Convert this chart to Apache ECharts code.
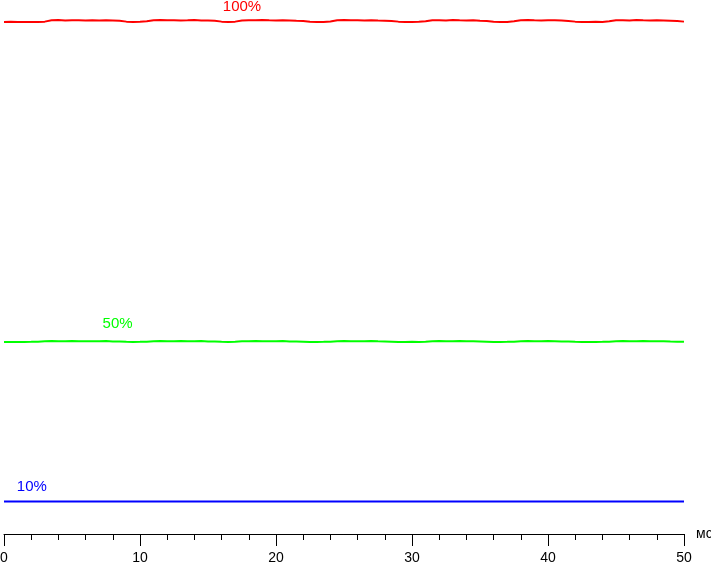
<!DOCTYPE html>
<html>
<head>
<meta charset="utf-8">
<script src="https://cdn.jsdelivr.net/npm/echarts@6/dist/echarts.min.js"></script>
<style>html,body{margin:0;padding:0;background:#fff;}#c{width:711px;height:562px;}</style>
</head>
<body>
<div id="c"></div>
<script>
// time axis (ms), sampled every 0.5 ms
var timeMs = [];
for (var i = 0; i <= 100; i++) timeMs.push(i * 0.5);

var xTicks = [0, 10, 20, 30, 40, 50];
var xUnit = 'мс';
var seriesNames = ['100%', '50%', '10%'];

// relative brightness (arbitrary units, 0..100 of plot height)
var red100 = [
  95.90, 95.92, 95.88, 95.90, 95.86, 95.90, 95.95,
  96.20, 96.24, 96.18, 96.22, 96.20, 96.16, 96.22, 96.18, 96.20, 96.15, 96.10,
  95.95, 95.90, 95.92, 96.00,
  96.22, 96.25, 96.20, 96.22, 96.18, 96.20, 96.24, 96.18, 96.15, 96.10,
  95.95, 95.90, 95.95,
  96.18, 96.22, 96.20, 96.24, 96.20, 96.18, 96.22, 96.16, 96.10, 96.05,
  95.92, 95.88, 95.90, 95.98,
  96.20, 96.24, 96.20, 96.22, 96.18, 96.20, 96.15, 96.12, 96.05,
  95.95, 95.90, 95.88, 95.92, 96.00,
  96.20, 96.22, 96.18, 96.24, 96.20, 96.18, 96.20, 96.12, 96.05,
  95.92, 95.88, 95.90, 96.00,
  96.20, 96.24, 96.20, 96.18, 96.22, 96.20, 96.15, 96.08,
  95.95, 95.90, 95.88, 95.92, 95.90, 96.00,
  96.20, 96.22, 96.18, 96.24, 96.20, 96.18, 96.20, 96.15, 96.10, 96.05,
  95.95
];
var green50 = [
  35.96, 35.97, 35.95, 35.96, 35.98, 36.02,
  36.10, 36.12, 36.08, 36.11, 36.12, 36.09, 36.11, 36.08, 36.10, 36.12, 36.07, 36.03,
  35.98, 35.97, 35.99, 36.02,
  36.10, 36.12, 36.09, 36.11, 36.12, 36.08, 36.10, 36.12, 36.07, 36.03,
  35.98, 35.96, 35.99,
  36.09, 36.11, 36.12, 36.08, 36.11, 36.10, 36.12, 36.07, 36.04, 36.01,
  35.97, 35.96, 35.98, 36.02,
  36.10, 36.12, 36.09, 36.11, 36.10, 36.12, 36.08, 36.05, 36.01,
  35.97, 35.96, 35.98, 35.97, 36.02,
  36.10, 36.12, 36.08, 36.11, 36.12, 36.09, 36.10, 36.06, 36.02,
  35.97, 35.96, 35.98, 36.02,
  36.10, 36.12, 36.09, 36.11, 36.12, 36.10, 36.07, 36.03,
  35.98, 35.96, 35.97, 35.96, 35.98, 36.02,
  36.10, 36.12, 36.09, 36.11, 36.12, 36.08, 36.11, 36.09, 36.05, 36.02,
  35.98
];
var blue10 = [
  6.08, 6.08, 6.09, 6.08, 6.08, 6.09, 6.08, 6.08, 6.09, 6.08,
  6.08, 6.09, 6.08, 6.08, 6.09, 6.08, 6.08, 6.09, 6.08, 6.08,
  6.09, 6.08, 6.08, 6.09, 6.08, 6.08, 6.09, 6.08, 6.08, 6.09,
  6.08, 6.08, 6.09, 6.08, 6.08, 6.09, 6.10, 6.08, 6.08, 6.09,
  6.08, 6.08, 6.09, 6.08, 6.08, 6.09, 6.08, 6.08, 6.09, 6.08,
  6.08, 6.09, 6.08, 6.08, 6.09, 6.08, 6.08, 6.10, 6.08, 6.08,
  6.09, 6.08, 6.08, 6.09, 6.08, 6.08, 6.09, 6.08, 6.08, 6.09,
  6.08, 6.08, 6.09, 6.08, 6.08, 6.09, 6.08, 6.08, 6.09, 6.08,
  6.08, 6.09, 6.08, 6.08, 6.10, 6.08, 6.08, 6.09, 6.08, 6.08,
  6.09, 6.08, 6.08, 6.09, 6.08, 6.08, 6.09, 6.08, 6.08, 6.09,
  6.08
];
// where the level labels sit along the time axis (ms)
var labelAt = [17.5, 8.35, 2.05];
var labelLift = [14, 18, 15];

var colors = ['#ff0000', '#00ff00', '#0000ff'];
var datasets = [red100, green50, blue10];
var FONT = '"Liberation Sans", Arial, sans-serif';

function pairs(arr) {
  return arr.map(function (v, k) { return [timeMs[k], v]; });
}

var series = datasets.map(function (arr, s) {
  var yAtLabel = arr[Math.round(labelAt[s] / 0.5)];
  return {
    type: 'line',
    name: seriesNames[s],
    data: pairs(arr),
    showSymbol: false,
    symbol: 'none',
    smooth: false,
    lineStyle: { color: colors[s], width: 2 },
    silent: true,
    z: 3 - s,
    markPoint: {
      symbol: 'circle',
      symbolSize: 0,
      silent: true,
      data: [{ coord: [labelAt[s], yAtLabel] }],
      label: {
        show: true,
        formatter: seriesNames[s],
        color: colors[s],
        fontFamily: FONT,
        fontSize: 15,
        position: 'inside',
        offset: [0, -labelLift[s]]
      }
    }
  };
});

var chart = echarts.init(document.getElementById('c'), null, { renderer: 'canvas' });
chart.setOption({
  animation: false,
  backgroundColor: '#ffffff',
  grid: { left: 4, right: 27, top: 0, bottom: 28, containLabel: false, outerBoundsMode: 'none' },
  xAxis: {
    type: 'value',
    min: xTicks[0],
    max: xTicks[xTicks.length - 1],
    interval: 10,
    name: xUnit,
    nameLocation: 'end',
    nameGap: 12,
    nameTextStyle: { color: '#000', fontFamily: FONT, fontSize: 14, padding: [8, 0, 0, 0] },
    axisLine: { show: true, lineStyle: { color: '#000', width: 1 } },
    axisTick: { show: true, length: 12, lineStyle: { color: '#000', width: 1 } },
    minorTick: { show: true, splitNumber: 5, length: 6, lineStyle: { color: '#000', width: 1 } },
    splitLine: { show: false },
    axisLabel: { color: '#000', fontFamily: FONT, fontSize: 14, margin: 17 }
  },
  yAxis: {
    type: 'value',
    min: 0,
    max: 100,
    show: false,
    splitLine: { show: false }
  },
  series: series
});
</script>
</body>
</html>
